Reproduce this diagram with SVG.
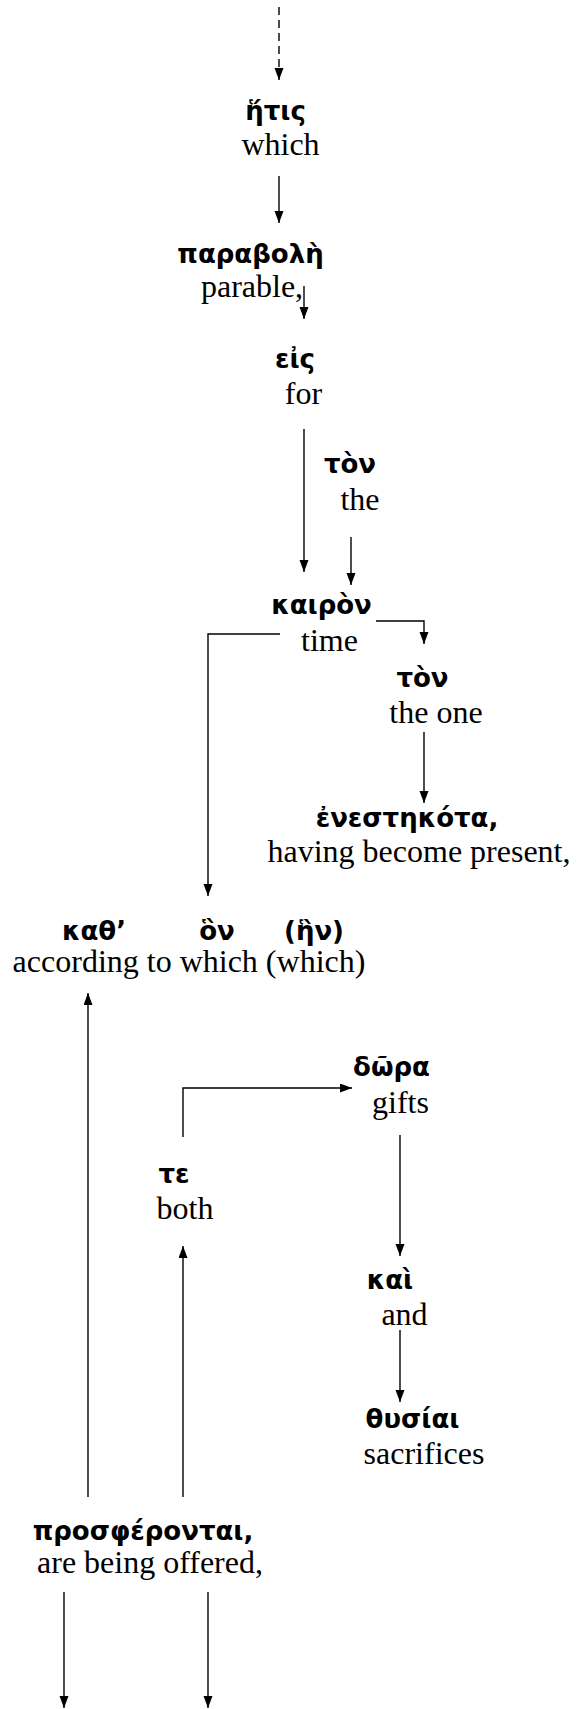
<svg xmlns="http://www.w3.org/2000/svg" width="580" height="1709" viewBox="0 0 580 1709">
<style>
.gk{font-family:"DejaVu Sans","Noto Sans",sans-serif;font-weight:bold;font-size:26px;fill:#000;text-anchor:middle}
.en{font-family:"Liberation Serif","Times New Roman",serif;font-size:32px;fill:#000;text-anchor:middle}
.ln{fill:none;stroke:#000;stroke-width:1.4}
.ar{marker-end:url(#ah)}
</style>
<defs>
<marker id="ah" markerUnits="userSpaceOnUse" markerWidth="12" markerHeight="10" refX="12" refY="4.5" orient="auto">
<path d="M0,0 L12,4.5 L0,9 z" fill="#000"/>
</marker>
</defs>
<rect width="580" height="1709" fill="#fff"/>
<g id="connectors">
<path class="ln ar" d="M279,7 V80" stroke-dasharray="8,5"/>
<path class="ln ar" d="M279,176 V223"/>
<path class="ln ar" d="M304,286 V319"/>
<path class="ln ar" d="M304,429 V572"/>
<path class="ln ar" d="M351,537 V585"/>
<path class="ln ar" d="M376,621 H424 V644"/>
<path class="ln ar" d="M424,732 V803"/>
<path class="ln ar" d="M280,634 H208 V896"/>
<path class="ln ar" d="M88,1497 V993"/>
<path class="ln ar" d="M183,1497 V1246"/>
<path class="ln ar" d="M183,1137 V1088 H352"/>
<path class="ln ar" d="M400,1135 V1256"/>
<path class="ln ar" d="M400,1330 V1402"/>
<path class="ln ar" d="M64,1592 V1708"/>
<path class="ln ar" d="M208,1592 V1708"/>
</g>
<g id="n-hetis"><text class="gk" x="275.5" y="120">ἥτις</text><text class="en" x="280.5" y="155">which</text></g>
<g id="n-parabole"><text class="gk" x="250.5" y="263">παραβολὴ</text><text class="en" x="252" y="297">parable,</text></g>
<g id="n-eis"><text class="gk" x="295" y="368">εἰς</text><text class="en" x="303.5" y="404">for</text></g>
<g id="n-ton1"><text class="gk" x="350" y="473">τὸν</text><text class="en" x="360" y="510">the</text></g>
<g id="n-kairon"><text class="gk" x="321.5" y="614">καιρὸν</text><text class="en" x="329.5" y="651">time</text></g>
<g id="n-ton2"><text class="gk" x="422.5" y="687">τὸν</text><text class="en" x="436" y="723">the one</text></g>
<g id="n-enestekota"><text class="gk" x="407" y="827">ἐνεστηκότα,</text><text class="en" x="419" y="862">having become present,</text></g>
<g id="n-kath-hon"><text class="gk" x="94" y="940">καθ’</text><text class="gk" x="217" y="940">ὃν</text><text class="gk" x="314" y="940">(ἣν)</text><text class="en" x="189" y="972">according to which (which)</text></g>
<g id="n-dora"><text class="gk" x="391.5" y="1076">δῶρα</text><text class="en" x="400.5" y="1113">gifts</text></g>
<g id="n-te"><text class="gk" x="174" y="1183">τε</text><text class="en" x="185" y="1219">both</text></g>
<g id="n-kai"><text class="gk" x="390" y="1289">καὶ</text><text class="en" x="404.5" y="1325">and</text></g>
<g id="n-thusiai"><text class="gk" x="412.5" y="1428">θυσίαι</text><text class="en" x="424" y="1464">sacrifices</text></g>
<g id="n-prospherontai"><text class="gk" x="143" y="1540">προσφέρονται,</text><text class="en" x="150" y="1573">are being offered,</text></g>
</svg>
